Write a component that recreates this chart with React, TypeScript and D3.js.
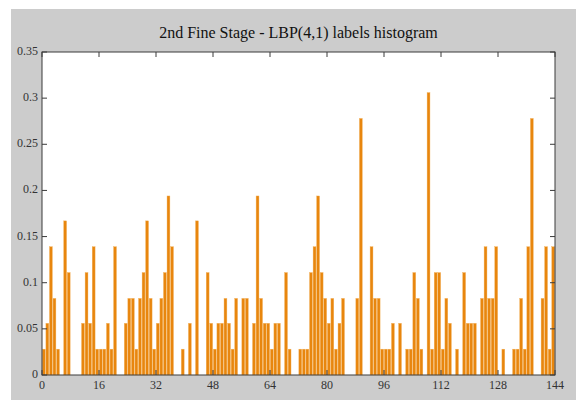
import { useRef, useEffect } from 'react'
import * as d3 from 'd3'

// normalised LBP(4,1) label histogram, 9 blocks of 16 labels
const labelValues: number[] = [
  0.028, 0.056, 0.139, 0.083, 0.028, 0, 0.167, 0.111, 0, 0, 0, 0.056, 0.111, 0.056, 0.139, 0.028,
  0.028, 0.028, 0.056, 0.028, 0.139, 0, 0, 0.056, 0.083, 0.083, 0.028, 0.083, 0.111, 0.167, 0.083, 0.028,
  0.056, 0.083, 0.111, 0.194, 0.139, 0, 0, 0.028, 0, 0.056, 0, 0.167, 0, 0, 0.111, 0.056,
  0.028, 0.056, 0.056, 0.083, 0.056, 0.028, 0.083, 0, 0.083, 0.083, 0, 0.056, 0.194, 0.083, 0.056, 0.056,
  0.028, 0.056, 0.056, 0, 0.111, 0.028, 0, 0, 0.028, 0.028, 0.028, 0.111, 0.139, 0.194, 0.111, 0.083,
  0.056, 0.083, 0.028, 0.056, 0.083, 0, 0, 0, 0.083, 0.278, 0, 0, 0.139, 0.083, 0.083, 0.028,
  0.028, 0.028, 0.056, 0, 0.056, 0, 0.028, 0.028, 0.111, 0.083, 0.028, 0, 0.306, 0.028, 0.111, 0.111,
  0.028, 0.083, 0.056, 0, 0.028, 0, 0.111, 0.056, 0.056, 0.056, 0, 0.083, 0.139, 0.083, 0.083, 0.139,
  0, 0.028, 0, 0, 0.028, 0.028, 0.083, 0.028, 0.139, 0.278, 0, 0, 0.083, 0.139, 0.028, 0.139,
]
const xTicks = [0, 16, 32, 48, 64, 80, 96, 112, 128, 144]
const yTicks = [0, 0.05, 0.1, 0.15, 0.2, 0.25, 0.3, 0.35]
const title = '2nd Fine Stage - LBP(4,1) labels histogram'

const width = 585
const height = 400

const App = () => {
  const svgRef = useRef<SVGSVGElement>(null)

  useEffect(() => {
    if (!svgRef.current) return
    const svg = d3.select(svgRef.current)
    svg.selectAll('*').remove()

    const plot = { left: 42, right: 555, top: 52, bottom: 375 }
    const font = '"Liberation Serif", "Times New Roman", serif'

    // figure background
    svg.append('rect')
      .attr('x', 11).attr('y', 9)
      .attr('width', 565).attr('height', height - 9)
      .attr('fill', '#cccccc')

    svg.append('rect')
      .attr('x', plot.left).attr('y', plot.top)
      .attr('width', plot.right - plot.left).attr('height', plot.bottom - plot.top)
      .attr('fill', '#ffffff')

    const x = d3.scaleLinear().domain([0, 144]).range([plot.left, plot.right])
    const y = d3.scaleLinear().domain([0, 0.35]).range([plot.bottom, plot.top])
    const bw = x(1) - x(0)

    // bars
    svg.append('g')
      .selectAll('rect')
      .data(labelValues)
      .join('rect')
      .attr('x', (_, i) => x(i + 0.5) - bw * 0.4)
      .attr('width', bw * 0.8)
      .attr('y', d => y(d))
      .attr('height', d => y(0) - y(d))
      .attr('fill', '#e8860e')
      .attr('stroke', '#f3b15a')
      .attr('stroke-width', 0.4)

    // axes box with inward ticks
    const axisColor = '#3a3a3a'
    const tl = 5
    const box = svg.append('g').attr('stroke', axisColor).attr('fill', 'none')
    box.append('rect')
      .attr('x', plot.left).attr('y', plot.top)
      .attr('width', plot.right - plot.left).attr('height', plot.bottom - plot.top)
      .attr('stroke-width', 1)

    xTicks.forEach(t => {
      box.append('line').attr('x1', x(t)).attr('x2', x(t)).attr('y1', plot.bottom).attr('y2', plot.bottom - tl)
      box.append('line').attr('x1', x(t)).attr('x2', x(t)).attr('y1', plot.top).attr('y2', plot.top + tl)
    })
    yTicks.forEach(t => {
      box.append('line').attr('x1', plot.left).attr('x2', plot.left + tl).attr('y1', y(t)).attr('y2', y(t))
      box.append('line').attr('x1', plot.right).attr('x2', plot.right - tl).attr('y1', y(t)).attr('y2', y(t))
    })

    // tick labels
    svg.append('g')
      .selectAll('text')
      .data(xTicks)
      .join('text')
      .attr('x', d => x(d))
      .attr('y', plot.bottom + 14)
      .attr('text-anchor', 'middle')
      .attr('font-family', font)
      .attr('font-size', 12)
      .attr('fill', '#333')
      .text(d => String(d))

    svg.append('g')
      .selectAll('text')
      .data(yTicks)
      .join('text')
      .attr('x', plot.left - 4)
      .attr('y', d => y(d) + 3)
      .attr('text-anchor', 'end')
      .attr('font-family', font)
      .attr('font-size', 12)
      .attr('fill', '#333')
      .text(d => String(d))

    // title
    svg.append('text')
      .attr('x', (plot.left + plot.right) / 2)
      .attr('y', 38)
      .attr('text-anchor', 'middle')
      .attr('font-family', font)
      .attr('font-size', 16)
      .attr('fill', '#111')
      .text(title)
  }, [])

  return (
    <svg
      ref={svgRef}
      width={width}
      height={height}
      style={{ position: 'absolute', left: 0, top: 0, background: '#fff' }}
    />
  )
}

export default App
